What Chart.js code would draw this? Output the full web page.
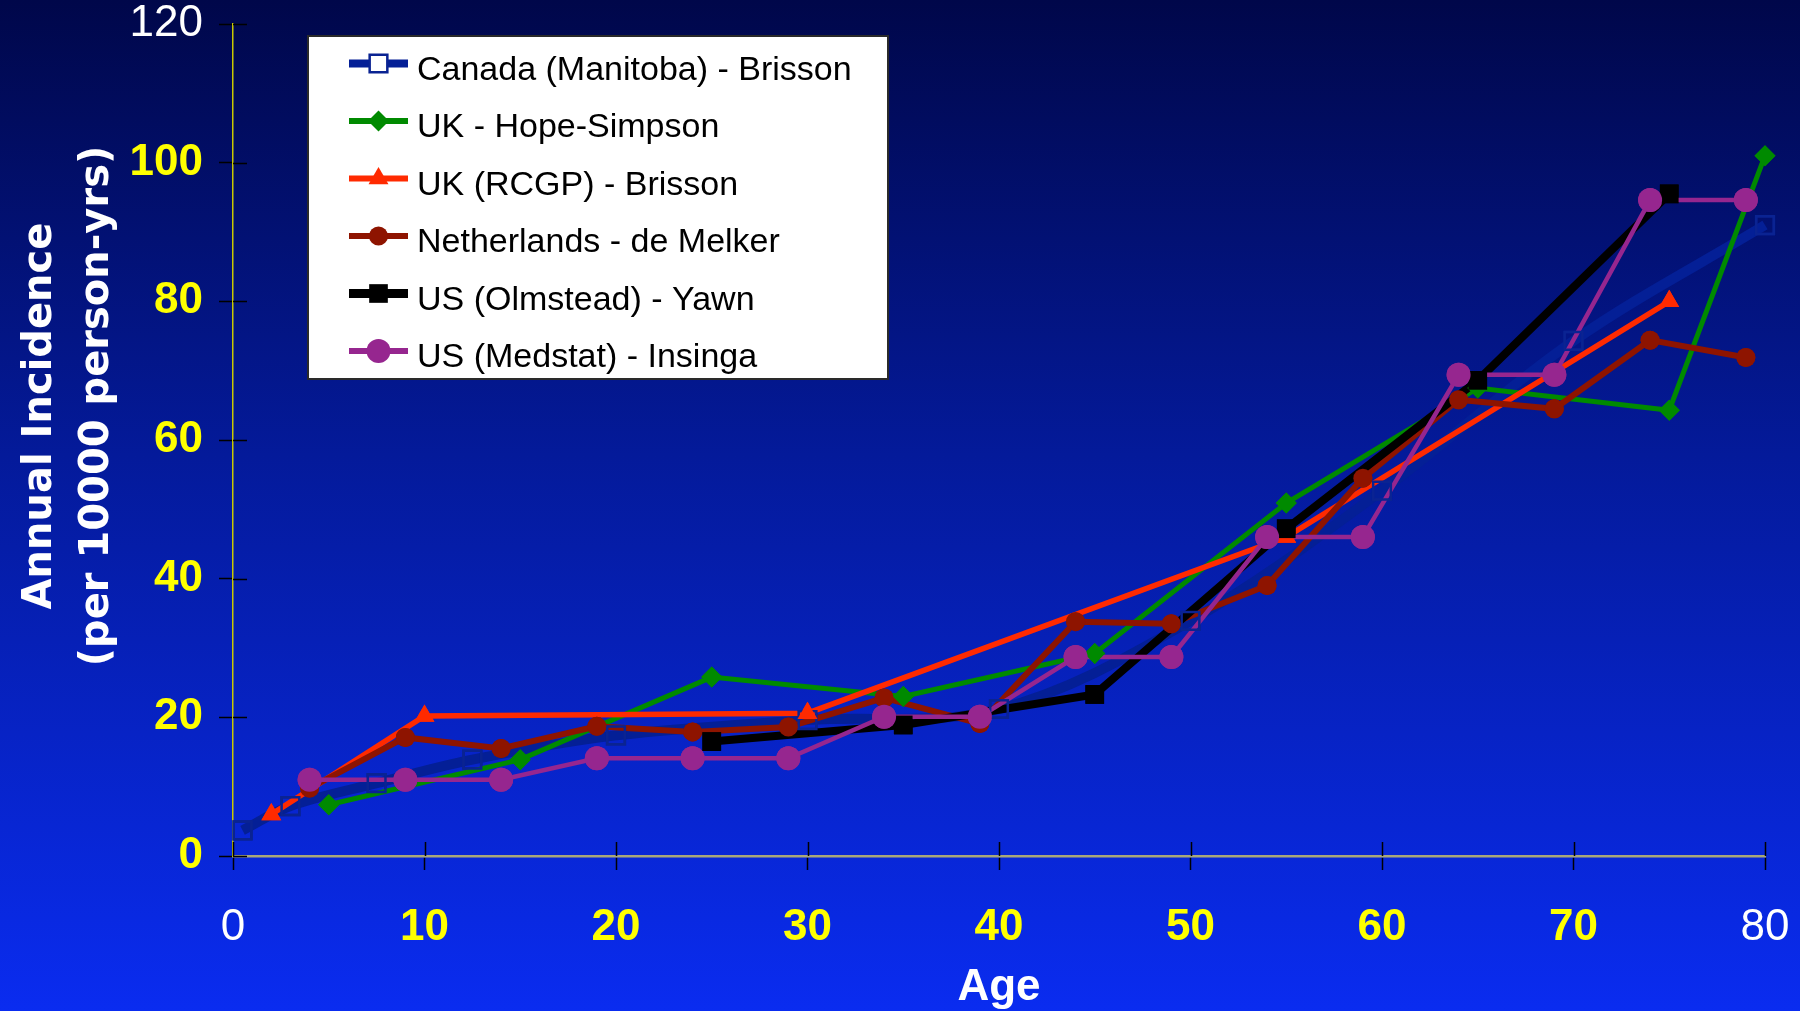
<!DOCTYPE html>
<html>
<head>
<meta charset="utf-8">
<title>Annual Incidence by Age</title>
<script src="https://cdn.jsdelivr.net/npm/chart.js@4/dist/chart.umd.min.js"></script>
<style>
  html, body { margin: 0; padding: 0; background: #0a2cf0; }
  #wrap { width: 1800px; height: 1011px; position: relative; }
</style>
</head>
<body>
<div id="wrap"><canvas id="chart" width="1800" height="1011"></canvas></div>
<script>
// ---- data -------------------------------------------------------------
const seriesNames = [
  'Canada (Manitoba) - Brisson',
  'UK - Hope-Simpson',
  'UK (RCGP) - Brisson',
  'Netherlands - de Melker',
  'US (Olmstead) - Yawn',
  'US (Medstat) - Insinga'
];

const canadaAges = [0.5, 3, 7.5, 12.5, 20, 30, 40, 50, 60, 70, 80];
const canadaRates = [3.7, 7.2, 10.5, 13.9, 17.4, 19.6, 21.2, 33.9, 52.7, 74.3, 91];

const hopeSimpsonAges = [5, 15, 25, 35, 45, 55, 65, 75, 80];
const hopeSimpsonRates = [7.4, 13.9, 25.8, 23.0, 29.2, 50.9, 67.5, 64.3, 101];

const rcgpAges = [2, 10, 30, 55, 75];
const rcgpRates = [6, 20.2, 20.6, 46, 80];

const netherlandsAges = [4, 9, 14, 19, 24, 29, 34, 39, 44, 49, 54, 59, 64, 69, 74, 79];
const netherlandsRates = [9.8, 17.1, 15.5, 18.7, 17.9, 18.6, 22.8, 19.1, 33.8, 33.5, 39.0, 54.5, 65.8, 64.5, 74.4, 71.9];

const olmsteadAges = [25, 35, 45, 55, 65, 75];
const olmsteadRates = [16.5, 18.9, 23.3, 47.2, 68.6, 95.5];

const medstatAges = [4, 9, 14, 19, 24, 29, 34, 39, 44, 49, 54, 59, 64, 69, 74, 79];
const medstatRates = [11, 11, 11, 14.1, 14.1, 14.1, 20.1, 20.1, 28.7, 28.7, 46, 46, 69.4, 69.4, 94.6, 94.6];

// axis ticks; the listed values are printed in plain white, the rest in bold yellow
const ageTicks = [0, 10, 20, 30, 40, 50, 60, 70, 80];
const incidenceTicks = [0, 20, 40, 60, 80, 100, 120];
const plainAgeTicks = [0, 80];
const plainIncidenceTicks = [120];

const xTitle = 'Age';
const yTitleLines = ['Annual Incidence', '(per 10000 person-yrs)'];

// ---- helpers ----------------------------------------------------------
const toPoints = (xs, ys) => xs.map((x, i) => ({ x: x, y: ys[i] }));
const TICK_FAMILY = '"Liberation Sans", Arial, sans-serif';
const YELLOW = '#ffff00';

const datasets = [
  { label: seriesNames[0], data: toPoints(canadaAges, canadaRates),
    borderColor: '#041f96', borderWidth: 10, tension: 0.35,
    pointStyle: 'rect', pointRadius: 12.5, pointBorderWidth: 2.5,
    pointBorderColor: '#0a2392', pointBackgroundColor: 'rgba(0,0,0,0)',
    keyLineWidth: 8, order: 6 },
  { label: seriesNames[1], data: toPoints(hopeSimpsonAges, hopeSimpsonRates),
    borderColor: '#008a00', borderWidth: 5, tension: 0,
    pointStyle: 'rectRot', pointRadius: 10.5, pointBorderWidth: 0,
    pointBorderColor: '#008a00', pointBackgroundColor: '#008a00',
    keyLineWidth: 6, order: 5 },
  { label: seriesNames[2], data: toPoints(rcgpAges, rcgpRates),
    borderColor: '#ff2a00', borderWidth: 5.5, tension: 0,
    pointStyle: 'triangle', pointRadius: 11.5, pointBorderWidth: 0,
    pointBorderColor: '#ff2a00', pointBackgroundColor: '#ff2a00',
    keyLineWidth: 6, order: 4 },
  { label: seriesNames[3], data: toPoints(netherlandsAges, netherlandsRates),
    borderColor: '#8e1400', borderWidth: 6, tension: 0,
    pointStyle: 'circle', pointRadius: 9.5, pointBorderWidth: 0,
    pointBorderColor: '#8e1400', pointBackgroundColor: '#8e1400',
    keyLineWidth: 6, order: 3 },
  { label: seriesNames[4], data: toPoints(olmsteadAges, olmsteadRates),
    borderColor: '#000000', borderWidth: 8, tension: 0,
    pointStyle: 'rect', pointRadius: 13.2, pointBorderWidth: 0,
    pointBorderColor: '#000000', pointBackgroundColor: '#000000',
    keyLineWidth: 9, order: 2 },
  { label: seriesNames[5], data: toPoints(medstatAges, medstatRates),
    borderColor: '#96268f', borderWidth: 4.5, tension: 0,
    pointStyle: 'circle', pointRadius: 12, pointBorderWidth: 0,
    pointBorderColor: '#96268f', pointBackgroundColor: '#96268f',
    keyLineWidth: 6, order: 1 }
].map(d => Object.assign({ fill: false, clip: false, pointHoverRadius: d.pointRadius }, d));

// ---- plugins ----------------------------------------------------------
// slide-style blue gradient behind everything
const backdrop = {
  id: 'backdrop',
  beforeDraw(chart) {
    const { ctx, width, height } = chart;
    const g = ctx.createLinearGradient(0, 0, 0, height);
    g.addColorStop(0, '#00074a');
    g.addColorStop(0.45, '#041a9a');
    g.addColorStop(1, '#0a2cf0');
    ctx.save();
    ctx.fillStyle = g;
    ctx.fillRect(0, 0, width, height);
    ctx.restore();
  }
};

// tick marks cross the axes: draw the half that lies inside the plot
const innerTicks = {
  id: 'innerTicks',
  beforeDatasetsDraw(chart) {
    const { ctx } = chart;
    const xs = chart.scales.x, ys = chart.scales.y;
    ctx.save();
    ctx.strokeStyle = '#000';
    ctx.lineWidth = 1.5;
    ctx.beginPath();
    xs.ticks.forEach(t => {
      const px = Math.round(xs.getPixelForValue(t.value)) + 0.5;
      ctx.moveTo(px, xs.top);
      ctx.lineTo(px, xs.top - 14);
    });
    ys.ticks.forEach(t => {
      const py = Math.round(ys.getPixelForValue(t.value)) + 0.5;
      ctx.moveTo(ys.right, py);
      ctx.lineTo(ys.right + 14, py);
    });
    ctx.stroke();
    ctx.restore();
  }
};

// markers sit above every line, later series above earlier ones
const markersOnTop = {
  id: 'markersOnTop',
  afterDatasetsDraw(chart) {
    const ctx = chart.ctx;
    const big = { left: -1e4, right: 1e4, top: -1e4, bottom: 1e4 };
    chart.data.datasets.forEach((ds, i) => {
      chart.getDatasetMeta(i).data.forEach(p => p.draw(ctx, big));
    });
  }
};

// rotated two-line title of the value axis
const valueTitle = {
  id: 'valueTitle',
  afterDraw(chart) {
    const ctx = chart.ctx;
    const lines = [
      { text: yTitleLines[0], x: 51, y: 416 },
      { text: yTitleLines[1], x: 108, y: 406 }
    ];
    ctx.save();
    ctx.fillStyle = '#ffffff';
    ctx.font = 'bold 40px "DejaVu Sans", Verdana, sans-serif';
    ctx.textAlign = 'center';
    ctx.textBaseline = 'alphabetic';
    lines.forEach(l => {
      ctx.save();
      ctx.translate(l.x, l.y);
      ctx.rotate(-Math.PI / 2);
      ctx.fillText(l.text, 0, 0);
      ctx.restore();
    });
    ctx.restore();
  }
};

// boxed key with line + marker samples
const keyBox = {
  id: 'keyBox',
  afterDraw(chart) {
    const ctx = chart.ctx;
    const box = { x: 308, y: 36, w: 580, h: 343 };
    ctx.save();
    ctx.fillStyle = '#ffffff';
    ctx.fillRect(box.x, box.y, box.w, box.h);
    ctx.strokeStyle = '#2a2a2a';
    ctx.lineWidth = 2;
    ctx.strokeRect(box.x, box.y, box.w, box.h);
    chart.data.datasets.forEach((ds, i) => {
      const y = 63.5 + i * 57.5;
      ctx.strokeStyle = ds.borderColor;
      ctx.lineWidth = ds.keyLineWidth;
      ctx.beginPath();
      ctx.moveTo(349, y);
      ctx.lineTo(408, y);
      ctx.stroke();
      ctx.fillStyle = ds.pointBackgroundColor;
      ctx.strokeStyle = ds.pointBorderColor;
      ctx.lineWidth = ds.pointBorderWidth;
      const opts = { pointStyle: ds.pointStyle, radius: ds.pointRadius, borderWidth: ds.pointBorderWidth, rotation: 0 };
      if (ds.pointStyle === 'rect' && ds.pointBorderWidth > 0) {
        ctx.fillStyle = '#ffffff';
      }
      Chart.helpers.drawPoint(ctx, opts, 378.5, y);
      ctx.fillStyle = '#000000';
      ctx.font = '34px ' + TICK_FAMILY;
      ctx.textAlign = 'left';
      ctx.textBaseline = 'alphabetic';
      ctx.fillText(ds.label, 417, y + 16);
    });
    ctx.restore();
  }
};

// ---- chart ------------------------------------------------------------
const tickFont = (plain) => (ctx) => {
  const isPlain = ctx.tick && plain.includes(ctx.tick.value);
  return { family: TICK_FAMILY, size: 44, weight: isPlain ? 'normal' : 'bold', lineHeight: 1.2 };
};
const tickColor = (plain) => (ctx) => (ctx.tick && plain.includes(ctx.tick.value)) ? '#ffffff' : YELLOW;

new Chart(document.getElementById('chart'), {
  type: 'line',
  data: { datasets: datasets },
  options: {
    responsive: false,
    animation: false,
    events: [],
    layout: { padding: { top: 24, right: 35, left: 0, bottom: 0 } },
    plugins: { legend: { display: false }, tooltip: { enabled: false }, title: { display: false } },
    scales: {
      x: {
        type: 'linear',
        min: ageTicks[0],
        max: ageTicks[ageTicks.length - 1],
        afterBuildTicks: (s) => { s.ticks = ageTicks.map(v => ({ value: v })); },
        ticks: {
          padding: 31,
          font: tickFont(plainAgeTicks),
          color: tickColor(plainAgeTicks),
          maxRotation: 0,
          autoSkip: false
        },
        grid: { drawOnChartArea: false, drawTicks: true, tickLength: 14, tickColor: '#000', tickWidth: 1.5, color: '#000' },
        border: { display: true, color: '#a8a87a', width: 2.5 },
        title: {
          display: true, text: xTitle, color: '#ffffff',
          font: { family: TICK_FAMILY, size: 44, weight: 'bold', lineHeight: 1.2 },
          padding: { top: 0, bottom: -3 }
        },
        afterFit: (s) => { s.height = 155; s.paddingLeft = 0; s.paddingRight = 0; }
      },
      y: {
        type: 'linear',
        min: incidenceTicks[0],
        max: incidenceTicks[incidenceTicks.length - 1],
        afterBuildTicks: (s) => { s.ticks = incidenceTicks.map(v => ({ value: v })); },
        ticks: {
          padding: 16,
          font: tickFont(plainIncidenceTicks),
          color: tickColor(plainIncidenceTicks),
          autoSkip: false
        },
        grid: { drawOnChartArea: false, drawTicks: true, tickLength: 14, tickColor: '#000', tickWidth: 1.5, color: '#000' },
        border: { display: true, color: '#c8c800', width: 1.5 },
        afterFit: (s) => { s.width = 233; s.paddingTop = 0; s.paddingBottom = 0; }
      }
    }
  },
  plugins: [backdrop, innerTicks, markersOnTop, valueTitle, keyBox]
});
</script>
</body>
</html>
